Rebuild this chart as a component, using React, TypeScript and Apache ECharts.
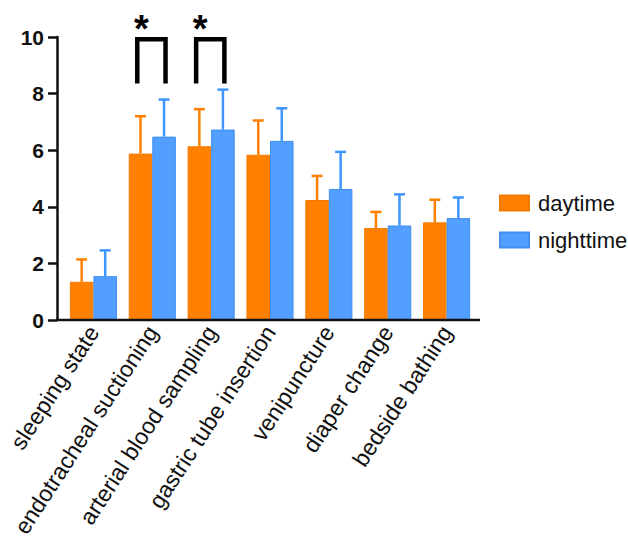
import React, { useEffect, useRef } from "react";
import * as echarts from "echarts";

const categories = [
  "sleeping state",
  "endotracheal suctioning",
  "arterial blood sampling",
  "gastric tube insertion",
  "venipuncture",
  "diaper change",
  "bedside bathing",
];
const daytimeMean = [1.35, 5.88, 6.14, 5.84, 4.24, 3.25, 3.45];
const daytimeUpper = [2.14, 7.2, 7.45, 7.05, 5.09, 3.82, 4.25];
const nighttimeMean = [1.55, 6.48, 6.73, 6.33, 4.63, 3.34, 3.6];
const nighttimeUpper = [2.46, 7.79, 8.14, 7.48, 5.94, 4.44, 4.33];
// significance brackets: [category index, leg bottom value, bracket top value]
const brackets = [
  [1, 8.36, 9.92],
  [2, 8.36, 9.92],
];
const yTicks = { min: 0, max: 10, interval: 2 };

const ORANGE = "#FF8000";
const BLUE = "#529FFF";
const FONT = "Liberation Sans, Arial, sans-serif";

function errorSeries(name: string, means: number[], uppers: number[], color: string, offset: number) {
  return {
    type: "custom",
    name: name + "-err",
    z: 3,
    silent: true,
    data: means.map((m, i) => [i, m, uppers[i]]),
    renderItem: (params: any, api: any) => {
      const bw = api.size([1, 0])[0];
      const p0 = api.coord([api.value(0), api.value(1)]);
      const p1 = api.coord([api.value(0), api.value(2)]);
      const x = p0[0] + offset * bw;
      const style = { stroke: color, lineWidth: 2.5, fill: "none" };
      return {
        type: "group",
        children: [
          { type: "line", shape: { x1: x, y1: p0[1], x2: x, y2: p1[1] }, style },
          { type: "line", shape: { x1: x - 5.5, y1: p1[1], x2: x + 5.5, y2: p1[1] }, style },
        ],
      };
    },
  };
}

export default function App() {
  const ref = useRef<HTMLDivElement>(null);
  useEffect(() => {
    if (!ref.current) return;
    const chart = echarts.init(ref.current, null, { renderer: "svg" });
    chart.setOption({
      animation: false,
      backgroundColor: "#fff",
      textStyle: { fontFamily: FONT },
      grid: { left: 64, top: 37, width: 412, height: 283, containLabel: false },
      legend: {
        orient: "vertical",
        left: 494,
        top: 187,
        itemWidth: 29,
        itemHeight: 15,
        itemGap: 15,
        icon: "rect",
        data: ["daytime", "nighttime"],
        textStyle: { fontSize: 22, color: "#111", fontFamily: FONT, lineHeight: 20, padding: [0, 0, 0, 4] },
      },
      xAxis: {
        type: "category",
        data: categories,
        axisLine: { show: false },
        axisTick: { show: false },
        axisLabel: {
          rotate: 57,
          interval: 0,
          margin: 8,
          fontSize: 23,
          color: "#111",
          fontFamily: FONT,
        },
      },
      yAxis: {
        type: "value",
        min: yTicks.min,
        max: yTicks.max,
        interval: yTicks.interval,
        offset: 7,
        splitLine: { show: false },
        axisLine: { show: true, lineStyle: { color: "#111", width: 2.5 } },
        axisTick: { show: true, length: 9, lineStyle: { color: "#111", width: 2.5 } },
        axisLabel: { fontSize: 21, fontWeight: "bold", color: "#111", margin: 13, fontFamily: FONT },
      },
      graphic: [
        { type: "line", shape: { x1: 56, y1: 320, x2: 480, y2: 320 }, style: { stroke: "#111", lineWidth: 2.5 }, z: 10 },
      ],
      series: [
        {
          name: "daytime",
          type: "bar",
          data: daytimeMean,
          barGap: "0%",
          barCategoryGap: "20%",
          itemStyle: { color: ORANGE, borderColor: "#F27A00", borderWidth: 1 },
        },
        {
          name: "nighttime",
          type: "bar",
          data: nighttimeMean,
          barGap: "0%",
          barCategoryGap: "20%",
          itemStyle: { color: BLUE, borderColor: "#3F8FF0", borderWidth: 1 },
        },
        errorSeries("daytime", daytimeMean, daytimeUpper, ORANGE, -0.2),
        errorSeries("nighttime", nighttimeMean, nighttimeUpper, "#3F95FF", 0.2),
        {
          type: "custom",
          name: "sig",
          silent: true,
          z: 4,
          data: brackets,
          renderItem: (params: any, api: any) => {
            const bw = api.size([1, 0])[0];
            const top = api.coord([api.value(0), api.value(2)]);
            const bot = api.coord([api.value(0), api.value(1)]);
            const x1 = top[0] - 0.255 * bw;
            const x2 = top[0] + 0.225 * bw;
            return {
              type: "group",
              children: [
                {
                  type: "polyline",
                  shape: { points: [[x1, bot[1]], [x1, top[1]], [x2, top[1]], [x2, bot[1]]] },
                  style: { stroke: "#000", lineWidth: 4.5, fill: "none", lineJoin: "miter", lineCap: "butt" },
                },
                {
                  type: "text",
                  x: x1 + 4,
                  y: top[1] + 9,
                  style: {
                    text: "*",
                    fontSize: 38,
                    fontWeight: "bold",
                    fontFamily: FONT,
                    fill: "#000",
                    align: "center",
                    verticalAlign: "bottom",
                  },
                },
              ],
            };
          },
        },
      ],
    });
    return () => chart.dispose();
  }, []);
  return <div ref={ref} style={{ width: 628, height: 543, position: "absolute", left: 0, top: 0 }} />;
}
